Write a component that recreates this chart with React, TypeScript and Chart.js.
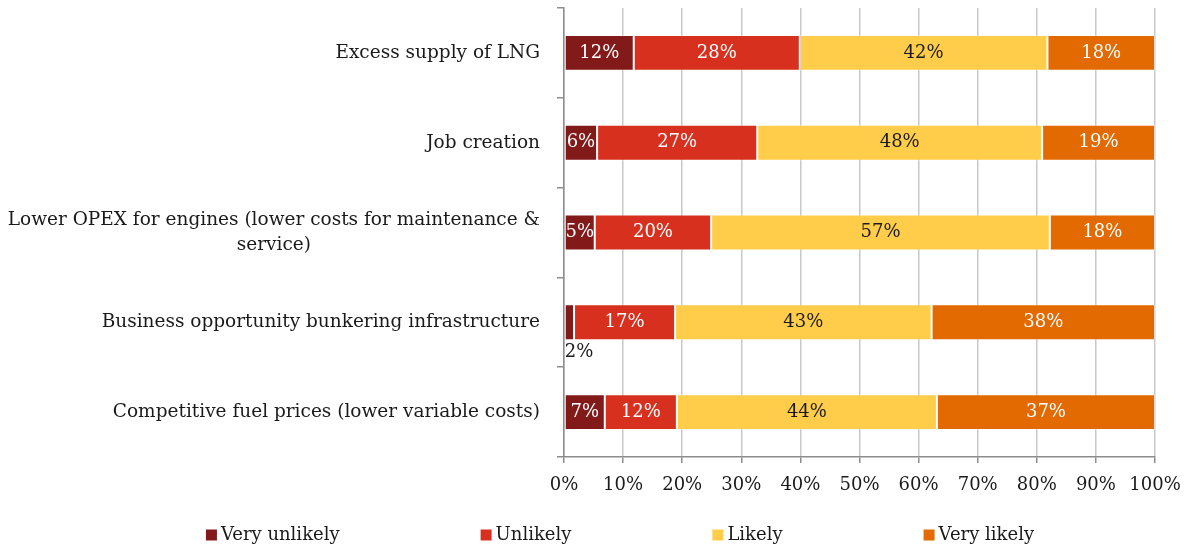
import { useEffect, useRef } from 'react';
import { Chart, registerables } from 'chart.js';

Chart.register(...registerables);

const categories: (string | string[])[] = [
  'Excess supply of LNG',
  'Job creation',
  ['Lower OPEX for engines (lower costs for maintenance &', 'service)'],
  'Business opportunity bunkering infrastructure',
  'Competitive fuel prices (lower variable costs)',
];
const seriesNames = ['Very unlikely', 'Unlikely', 'Likely', 'Very likely'];
const veryUnlikely = [11.8, 5.6, 5.2, 1.7, 6.9];
const unlikely = [28.1, 27.1, 19.7, 17.1, 12.2];
const likely = [41.9, 48.2, 57.3, 43.4, 44.0];
const veryLikely = [18.2, 19.1, 17.8, 37.8, 36.9];
const xMin = 0;
const xMax = 100;
const xStep = 10;

const seriesColors = ['#821A1A', '#D8301F', '#FFCD4A', '#E26A00'];
const labelColors = ['#FFFFFF', '#FFFFFF', '#1A1A1A', '#FFFFFF'];
const FONT = "'DejaVu Serif', 'Liberation Serif', serif";

const dataLabelPlugin = {
  id: 'dataLabels',
  afterDatasetsDraw(chart: any) {
    const ctx = chart.ctx;
    ctx.save();
    ctx.font = `18px ${FONT}`;
    ctx.textBaseline = 'middle';
    chart.data.datasets.forEach((ds: any, di: number) => {
      const meta = chart.getDatasetMeta(di);
      meta.data.forEach((bar: any, i: number) => {
        const v = ds.data[i] as number;
        const txt = Math.round(v) + '%';
        const p = bar.getProps(['x', 'y', 'base', 'height'], true);
        const left = Math.min(p.x, p.base);
        const right = Math.max(p.x, p.base);
        const w = ctx.measureText(txt).width;
        if (w > right - left + 8) {
          ctx.fillStyle = '#1A1A1A';
          ctx.textAlign = 'left';
          ctx.fillText(txt, left, p.y + p.height / 2 + 12);
        } else {
          ctx.fillStyle = labelColors[di];
          ctx.textAlign = 'center';
          ctx.fillText(txt, (left + right) / 2, p.y);
        }
      });
    });
    ctx.restore();
  },
};

const yLabelPlugin = {
  id: 'yLabels',
  afterDraw(chart: any) {
    const ctx = chart.ctx;
    const yScale = chart.scales.y;
    const rightEdge = yScale.right - 24;
    const lineHeight = 25;
    ctx.save();
    ctx.font = `18.5px ${FONT}`;
    ctx.fillStyle = '#1A1A1A';
    ctx.textBaseline = 'middle';
    ctx.textAlign = 'center';
    categories.forEach((cat, i) => {
      const lines = Array.isArray(cat) ? cat : [cat];
      const widest = Math.max(...lines.map((l) => ctx.measureText(l).width));
      const cx = rightEdge - widest / 2;
      const cy = yScale.getPixelForValue(i);
      lines.forEach((l, j) => {
        ctx.fillText(l, cx, cy + (j - (lines.length - 1) / 2) * lineHeight);
      });
    });
    ctx.restore();
  },
};

const legendPlugin = {
  id: 'customLegend',
  afterDraw(chart: any) {
    const ctx = chart.ctx;
    const box = 11;
    const boxGap = 4;
    const itemGap = 141;
    const centerX = 620;
    const cy = 535;
    ctx.save();
    ctx.font = `18px ${FONT}`;
    ctx.textBaseline = 'middle';
    ctx.textAlign = 'left';
    const widths = seriesNames.map((n) => box + boxGap + ctx.measureText(n).width);
    const total = widths.reduce((a, b) => a + b, 0) + itemGap * (widths.length - 1);
    let x = centerX - total / 2;
    seriesNames.forEach((n, i) => {
      ctx.fillStyle = seriesColors[i];
      ctx.fillRect(x, cy - box / 2, box, box);
      ctx.fillStyle = '#1A1A1A';
      ctx.fillText(n, x + box + boxGap, cy);
      x += widths[i] + itemGap;
    });
    ctx.restore();
  },
};

export default function App() {
  const canvasRef = useRef<HTMLCanvasElement | null>(null);

  useEffect(() => {
    if (!canvasRef.current) return;
    const seriesValues = [veryUnlikely, unlikely, likely, veryLikely];
    const chart = new Chart(canvasRef.current, {
      type: 'bar',
      data: {
        labels: categories as any,
        datasets: seriesNames.map((name, i) => ({
          label: name,
          data: seriesValues[i],
          backgroundColor: seriesColors[i],
          borderColor: 'rgba(255,255,255,0.3)',
          borderWidth: 1,
          borderSkipped: false,
          categoryPercentage: 0.4,
          barPercentage: 1,
        })),
      },
      options: {
        indexAxis: 'y',
        animation: false,
        responsive: true,
        maintainAspectRatio: false,
        layout: { padding: { left: 0, right: 34, top: 8, bottom: 0 } },
        plugins: {
          legend: { display: false },
          tooltip: { enabled: false },
        },
        scales: {
          x: {
            stacked: true,
            min: xMin,
            max: xMax,
            afterFit: (scale: any) => {
              scale.height = 89;
              scale.paddingLeft = 0;
              scale.paddingRight = 0;
            },
            ticks: {
              stepSize: xStep,
              callback: (v: any) => v + '%',
              color: '#1A1A1A',
              font: { family: FONT, size: 18 },
              padding: 12,
              maxRotation: 0,
            },
            grid: {
              color: '#C8C8C8',
              lineWidth: 1.5,
              tickColor: '#8C8C8C',
              tickLength: 6,
            },
            border: { color: '#8C8C8C', width: 1.5 },
          },
          y: {
            stacked: true,
            afterFit: (scale: any) => {
              scale.width = 564;
            },
            ticks: { display: false },
            grid: {
              drawOnChartArea: false,
              offset: true,
              tickColor: '#8C8C8C',
              tickLength: 7,
              lineWidth: 1.5,
            },
            border: { color: '#8C8C8C', width: 1.5 },
          },
        },
      },
      plugins: [dataLabelPlugin, yLabelPlugin, legendPlugin],
    });
    return () => chart.destroy();
  }, []);

  return (
    <div style={{ position: 'fixed', left: 0, top: 0, width: 1189, height: 546, background: '#FFFFFF' }}>
      <canvas ref={canvasRef} />
    </div>
  );
}
